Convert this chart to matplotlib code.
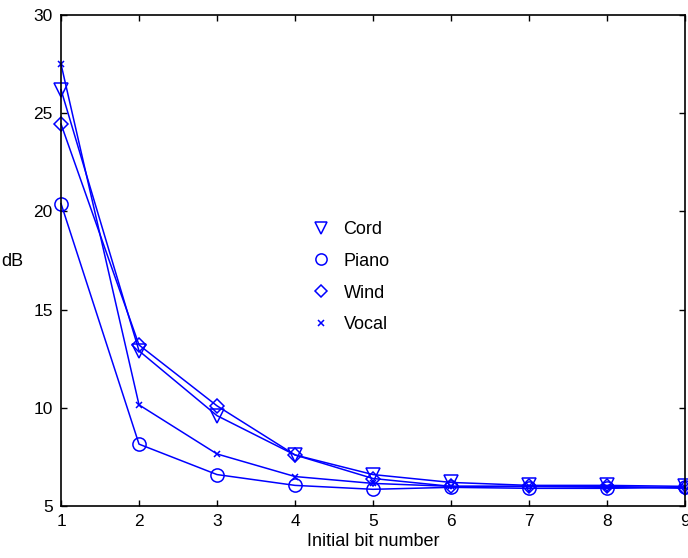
import numpy as np
import matplotlib.pyplot as plt
from matplotlib.lines import Line2D

plt.rcParams["font.family"] = ["Liberation Sans", "DejaVu Sans"]

# ----------------------------------------------------------
# DATA
# ----------------------------------------------------------
bits = [1, 2, 3, 4, 5, 6, 7, 8, 9]
cord = [26.2, 12.9, 9.6, 7.6, 6.6, 6.2, 6.05, 6.05, 6.0]
piano = [20.4, 8.15, 6.6, 6.05, 5.85, 5.95, 5.9, 5.9, 5.95]
wind = [24.45, 13.2, 10.1, 7.6, 6.4, 6.0, 6.0, 6.0, 5.9]
vocal = [27.5, 10.15, 7.65, 6.5, 6.15, 6.0, 6.0, 5.95, 5.95]

series = [
    ("Cord", cord, "v", 10),
    ("Piano", piano, "o", 9.5),
    ("Wind", wind, "D", 7.5),
    ("Vocal", vocal, "x", 5),
]

# ----------------------------------------------------------
# PLOT
# ----------------------------------------------------------
fig = plt.figure(figsize=(6.88, 5.58), dpi=100)
ax = fig.add_axes([0.0887, 0.0932, 0.9069, 0.8798])

blue = "#0000ff"
handles = []
for name, vals, mk, ms in series:
    ax.plot(bits, vals, color=blue, lw=1.1, marker=mk, markersize=ms,
            markerfacecolor="none", markeredgecolor=blue, markeredgewidth=1.1,
            clip_on=False)
    handles.append(Line2D([], [], ls="none", marker=mk, markersize=ms * 0.85,
                          markerfacecolor="none", markeredgecolor=blue,
                          markeredgewidth=1.1, label=name))

ax.set_xlim(1, 9)
ax.set_ylim(5, 30)
ax.set_xticks(bits)
ax.set_yticks([5, 10, 15, 20, 25, 30])
ax.tick_params(direction="in", top=True, right=True, length=4, width=1,
               labelsize=12.5, pad=6)
for s in ax.spines.values():
    s.set_linewidth(1.2)

ax.set_xlabel("Initial bit number", fontsize=13, labelpad=3)
ax.set_ylabel("dB", fontsize=13, rotation=0)
ax.yaxis.set_label_coords(-0.078, 0.48)

ax.legend(handles=handles, loc="center left", bbox_to_anchor=(0.402, 0.466),
          frameon=False, fontsize=13, borderpad=0, handlelength=1.0,
          handletextpad=0.75, labelspacing=0.82, borderaxespad=0)

fig.savefig("out.png", dpi=100)
